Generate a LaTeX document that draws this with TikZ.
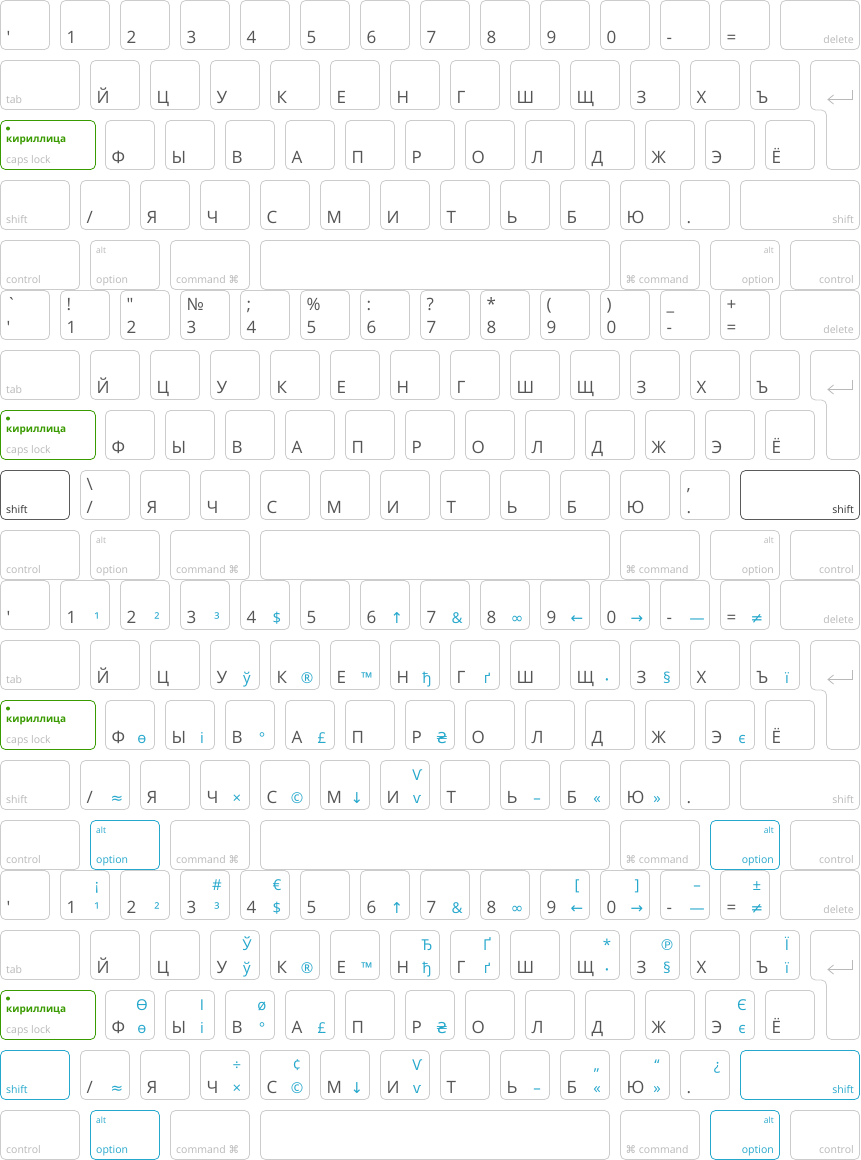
\documentclass[tikz,border=0pt]{standalone}
\usepackage{fontspec}
\setmainfont{Open Sans}
\newfontfamily\symfont{DejaVu Sans}
\newfontfamily\rawfont{Open Sans}[Ligatures=TeXOff]
\usepackage{tikz}
\definecolor{keygray}{RGB}{204,204,204}
\definecolor{keytext}{RGB}{85,85,85}
\definecolor{modgray}{RGB}{185,185,185}
\definecolor{altblue}{RGB}{38,168,204}
\definecolor{capsgreen}{RGB}{58,155,0}
\definecolor{shiftdark}{RGB}{90,90,90}
\definecolor{shifttext}{RGB}{50,50,50}

\begin{document}
\begin{tikzpicture}[x=1pt,y=-1pt,
  keybox/.style={draw=keygray, line width=0.8pt, rounded corners=5pt, minimum height=49pt, inner sep=0pt, outer sep=0pt, anchor=north west},
  keyline/.style={draw=keygray, line width=0.8pt, rounded corners=5pt},
  chr/.style={text=keytext, font=\fontsize{17}{17}\selectfont, inner sep=0pt, anchor=base west},
  altchr/.style={text=altblue, font=\fontsize{15}{15}\selectfont, inner sep=0pt, anchor=base},
  modlbl/.style={text=modgray, font=\fontsize{10.5}{10.5}\selectfont, inner sep=0pt, anchor=base west},
  modlblr/.style={modlbl, anchor=base east},
  altlbl/.style={modlbl, font=\fontsize{8.5}{8.5}\selectfont},
]
\fill[white] (0,0) rectangle (860,1160);
\useasboundingbox (0,0) rectangle (860,1160);

% four layers: plain, shift, option, shift+option
\foreach \b/\by/\sk/\st/\ok/\ot in {1/0/keygray/modgray/keygray/modgray,2/290/shiftdark/shifttext/keygray/modgray,3/580/keygray/modgray/altblue/altblue,4/870/altblue/altblue/altblue/altblue}{
  % number row
  \foreach \c [count=\i from 0] in {{\rawfont\symbol{"27}},1,2,3,4,5,6,7,8,9,0,-,=}{
    \node[keybox, minimum width=49pt] (n\b-\i) at (60*\i+0.5,\by+0.5) {};
    \node[chr] (n\b-\i-c) at ([shift={(6,-6.5)}]n\b-\i.south west) {\c};
  }
  \node[keybox, minimum width=79pt] (del\b) at (780.5,\by+0.5) {};
  \node[modlblr] (del\b-l) at ([shift={(-5.5,-6.5)}]del\b.south east) {delete};
  % top letter row
  \node[keybox, minimum width=79pt] (tab\b) at (0.5,\by+60.5) {};
  \node[modlbl] (tab\b-l) at ([shift={(5.5,-6.5)}]tab\b.south west) {tab};
  \foreach \c [count=\i from 0] in {Й,Ц,У,К,Е,Н,Г,Ш,Щ,З,Х,Ъ}{
    \node[keybox, minimum width=49pt] (q\b-\i) at (60*\i+90.5,\by+60.5) {};
    \node[chr] (q\b-\i-c) at ([shift={(6,-6.5)}]q\b-\i.south west) {\c};
  }
  \draw[keyline] (810.5,\by+60.5) -- (859.5,\by+60.5) -- (859.5,\by+169.5)
    -- (826.5,\by+169.5) -- (826.5,\by+110) -- (810.5,\by+110) -- cycle;
  \draw[modgray, line width=0.8pt] (852.5,\by+90) -- (852.5,\by+99.5) -- (828,\by+99.5)
    (833.5,\by+95) -- (828,\by+99.5) -- (833.5,\by+104);
  % home row
  \node[keybox, draw=capsgreen, minimum width=95pt] (caps\b) at (0.5,\by+120.5) {};
  \fill[capsgreen] ([shift={(7.5,8)}]caps\b.north west) circle (2);
  \node[modlbl, text=capsgreen, font=\fontsize{10}{10}\selectfont\bfseries] (caps\b-k) at ([shift={(5.5,22)}]caps\b.north west) {кириллица};
  \node[modlbl] (caps\b-l) at ([shift={(5.5,-6.5)}]caps\b.south west) {caps lock};
  \foreach \c [count=\i from 0] in {Ф,Ы,В,А,П,Р,О,Л,Д,Ж,Э,Ё}{
    \node[keybox, minimum width=49pt] (a\b-\i) at (60*\i+105.5,\by+120.5) {};
    \node[chr] (a\b-\i-c) at ([shift={(6,-6.5)}]a\b-\i.south west) {\c};
  }
  % bottom letter row
  \node[keybox, draw=\sk, minimum width=69pt] (lsh\b) at (0.5,\by+180.5) {};
  \node[modlbl, text=\st] (lsh\b-l) at ([shift={(5.5,-6.5)}]lsh\b.south west) {shift};
  \foreach \c [count=\i from 0] in {/,Я,Ч,С,М,И,Т,Ь,Б,Ю,.}{
    \node[keybox, minimum width=49pt] (z\b-\i) at (60*\i+80.5,\by+180.5) {};
    \node[chr] (z\b-\i-c) at ([shift={(6,-6.5)}]z\b-\i.south west) {\c};
  }
  \node[keybox, draw=\sk, minimum width=119pt] (rsh\b) at (740.5,\by+180.5) {};
  \node[modlblr, text=\st] (rsh\b-l) at ([shift={(-5.5,-6.5)}]rsh\b.south east) {shift};
  % modifier row
  \node[keybox, minimum width=79pt] (lctl\b) at (0.5,\by+240.5) {};
  \node[modlbl] (lctl\b-l) at ([shift={(5.5,-6.5)}]lctl\b.south west) {control};
  \node[keybox, draw=\ok, minimum width=69pt] (lopt\b) at (90.5,\by+240.5) {};
  \node[altlbl, text=\ot] (lopt\b-a) at ([shift={(5.5,13)}]lopt\b.north west) {alt};
  \node[modlbl, text=\ot] (lopt\b-l) at ([shift={(5.5,-6.5)}]lopt\b.south west) {option};
  \node[keybox, minimum width=79pt] (lcmd\b) at (170.5,\by+240.5) {};
  \node[modlbl] (lcmd\b-l) at ([shift={(5.5,-6.5)}]lcmd\b.south west) {command {\symfont ⌘}};
  \node[keybox, minimum width=349pt] (space\b) at (260.5,\by+240.5) {};
  \node[keybox, minimum width=79pt] (rcmd\b) at (620.5,\by+240.5) {};
  \node[modlbl] (rcmd\b-l) at ([shift={(5,-6.5)}]rcmd\b.south west) {{\symfont ⌘} command};
  \node[keybox, draw=\ok, minimum width=69pt] (ropt\b) at (710.5,\by+240.5) {};
  \node[altlbl, anchor=base east, text=\ot] (ropt\b-a) at ([shift={(-5.5,13)}]ropt\b.north east) {alt};
  \node[modlblr, text=\ot] (ropt\b-l) at ([shift={(-5.5,-6.5)}]ropt\b.south east) {option};
  \node[keybox, minimum width=69pt] (rctl\b) at (790.5,\by+240.5) {};
  \node[modlblr] (rctl\b-l) at ([shift={(-5.5,-6.5)}]rctl\b.south east) {control};
}

% shift layer
\foreach \c [count=\i from 0] in {{\rawfont\symbol{"60}},!,{\rawfont\symbol{"22}},№,;,\%,:,?,*,{(},{)},\_,+}
  \node[chr] (n2-\i-u) at ([shift={(6,-29.5)}]n2-\i.south west) {\c};
\node[chr] (z2-0-u) at ([shift={(6,-29.5)}]z2-0.south west) {\textbackslash};
\node[chr] (z2-10-u) at ([shift={(6,-29.5)}]z2-10.south west) {,};

% option layers
\foreach \b in {3,4}{
  \foreach \i/\c in {1/¹,2/²,3/³,4/\$,6/{\symfont ↑},7/\&,8/{\symfont ∞},9/{\symfont ←},10/{\symfont →},11/—,12/{\symfont ≠}}
    \node[altchr] (n\b-\i-a) at ([shift={(36.5,-6.5)}]n\b-\i.south west) {\c};
  \foreach \i/\c in {2/ў,3/®,4/™,5/ђ,6/ґ,8/{\fontsize{10}{10}\selectfont •},9/§,11/ї}
    \node[altchr] (q\b-\i-a) at ([shift={(36.5,-6.5)}]q\b-\i.south west) {\c};
  \foreach \i/\c in {0/ө,1/і,2/°,3/£,5/{\symfont ₴},10/є}
    \node[altchr] (a\b-\i-a) at ([shift={(36.5,-6.5)}]a\b-\i.south west) {\c};
  \foreach \i/\c in {0/{\symfont ≈},2/×,3/©,4/{\symfont ↓},5/ѵ,7/–,8/«,9/»}
    \node[altchr] (z\b-\i-a) at ([shift={(36.5,-6.5)}]z\b-\i.south west) {\c};
  \node[altchr] (z\b-5-b) at ([shift={(36.5,-29.5)}]z\b-5.south west) {Ѵ};
}

% shift+option layer
\foreach \i/\c in {1/¡,3/\#,4/€,9/{[},10/{]},11/–,12/±}
  \node[altchr] (n4-\i-b) at ([shift={(36.5,-29.5)}]n4-\i.south west) {\c};
\foreach \i/\c in {2/Ў,5/Ђ,6/Ґ,8/*,9/{\symfont ℗},11/Ї}
  \node[altchr] (q4-\i-b) at ([shift={(36.5,-29.5)}]q4-\i.south west) {\c};
\foreach \i/\c in {0/Ө,1/І,2/ø,10/Є}
  \node[altchr] (a4-\i-b) at ([shift={(36.5,-29.5)}]a4-\i.south west) {\c};
\foreach \i/\c in {2/÷,3/¢,8/„,9/“,10/¿}
  \node[altchr] (z4-\i-b) at ([shift={(36.5,-29.5)}]z4-\i.south west) {\c};
\end{tikzpicture}
\end{document}
